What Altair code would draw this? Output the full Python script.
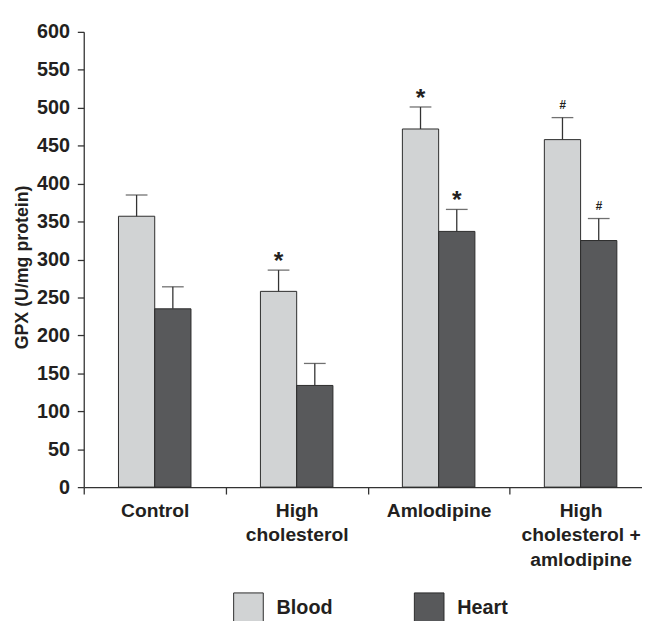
import altair as alt
import pandas as pd

categories = ["Control", "High cholesterol", "Amlodipine", "High cholesterol + amlodipine"]
label_lines = [["Control"], ["High", "cholesterol"], ["Amlodipine"], ["High", "cholesterol +", "amlodipine"]]
series = ["Blood", "Heart"]
blood = [357, 258, 472, 458]
blood_err = [28, 28, 29, 29]
heart = [235, 134, 337, 325]
heart_err = [29, 29, 29, 29]
blood_marks = ["", "*", "*", "#"]
heart_marks = ["", "", "*", "#"]
y_ticks = list(range(0, 601, 50))
colors = ["#d1d3d4", "#58595b"]

rows = []
for i, c in enumerate(categories):
    rows.append({"cat": c, "series": "Blood", "value": blood[i], "upper": blood[i] + blood_err[i], "mark": blood_marks[i]})
    rows.append({"cat": c, "series": "Heart", "value": heart[i], "upper": heart[i] + heart_err[i], "mark": heart_marks[i]})
df = pd.DataFrame(rows)

expr = "datum.label"
for c, lines in zip(categories, label_lines):
    arr = "[" + ",".join("'" + l + "'" for l in lines) + "]"
    expr = f"datum.label == '{c}' ? {arr} : ({expr})"

FONT = "Liberation Sans"
INK = "#231f20"
W, H = 565.3, 461

x_enc = alt.X(
    "cat:N", sort=categories,
    scale=alt.Scale(domain=categories, range=[0, 575], paddingInner=0, paddingOuter=0),
    axis=alt.Axis(title=None, labelExpr=expr, labelAngle=0, labelFont=FONT, labelFontSize=19.5,
                  labelFontWeight="bold", labelColor=INK, labelLineHeight=24.5, labelBaseline="top",
                  labelPadding=8, tickSize=7, tickBand="extent", tickColor="#333333", domainColor="#333333",
                  domainWidth=1.3, tickWidth=1.3, labelFlush=False, labelOverlap=False),
)
xo_enc = alt.XOffset("series:N", scale=alt.Scale(domain=series, paddingInner=0, paddingOuter=0.958))
y_scale = alt.Scale(domain=[0, 600], nice=False)
y_axis = alt.Axis(values=y_ticks, tickCount=13, title="GPX (U/mg protein)", titleFont=FONT, titleFontSize=18,
                  titleFontWeight="bold", titleColor=INK, titleX=-62, titleY=238, titleAngle=270,
                  titleBaseline="middle", titleAlign="center",
                  labelFont=FONT, labelFontSize=20, labelFontWeight="bold", labelColor=INK,
                  labelPadding=8, tickSize=6.5, tickColor="#333333", domainColor="#333333",
                  domainWidth=1.3, tickWidth=1.3, grid=False, labelOverlap=False)

base = alt.Chart(df).encode(x=x_enc, xOffset=xo_enc)

bars = base.mark_bar(stroke="#2b2b2b", strokeWidth=1).encode(
    y=alt.Y("value:Q", scale=y_scale, axis=y_axis),
    color=alt.Color("series:N", scale=alt.Scale(domain=series, range=colors),
                    legend=alt.Legend(title=None, orient="none", legendX=151.3, legendY=567.4,
                                      direction="horizontal", symbolType="square", symbolSize=900,
                                      symbolStrokeColor="#2b2b2b", symbolStrokeWidth=1, symbolOpacity=1,
                                      labelFont=FONT, labelFontSize=20, labelFontWeight="bold",
                                      labelColor=INK, labelOffset=13, columnPadding=80, padding=0)),
)

err = base.mark_rule(color="#333333", strokeWidth=1.3).encode(
    y=alt.Y("value:Q", scale=y_scale, axis=y_axis), y2="upper:Q")
caps = base.mark_tick(color="#333333", thickness=1.3, size=22).encode(
    y=alt.Y("upper:Q", scale=y_scale, axis=y_axis))

stars = base.transform_filter(alt.datum.mark == "*").mark_text(
    font=FONT, fontSize=25, fontWeight="bold", color=INK, baseline="alphabetic", dy=-1.5
).encode(y=alt.Y("upper:Q", scale=y_scale, axis=y_axis), text="mark:N")
hashes = base.transform_filter(alt.datum.mark == "#").mark_text(
    font=FONT, fontSize=12, fontStyle="italic", fontWeight="bold", color=INK, baseline="alphabetic", dy=-8.8
).encode(y=alt.Y("upper:Q", scale=y_scale, axis=y_axis), text="mark:N")

chart = alt.layer(bars, err, caps, stars, hashes).properties(
    width=W, height=H,
    autosize=alt.AutoSizeParams(type="none"),
    padding={"left": 76.7, "top": 20.3, "right": 0, "bottom": 132},
).configure_view(stroke=None)

chart.save("out.html", embed_options={"renderer": "svg", "actions": False})
